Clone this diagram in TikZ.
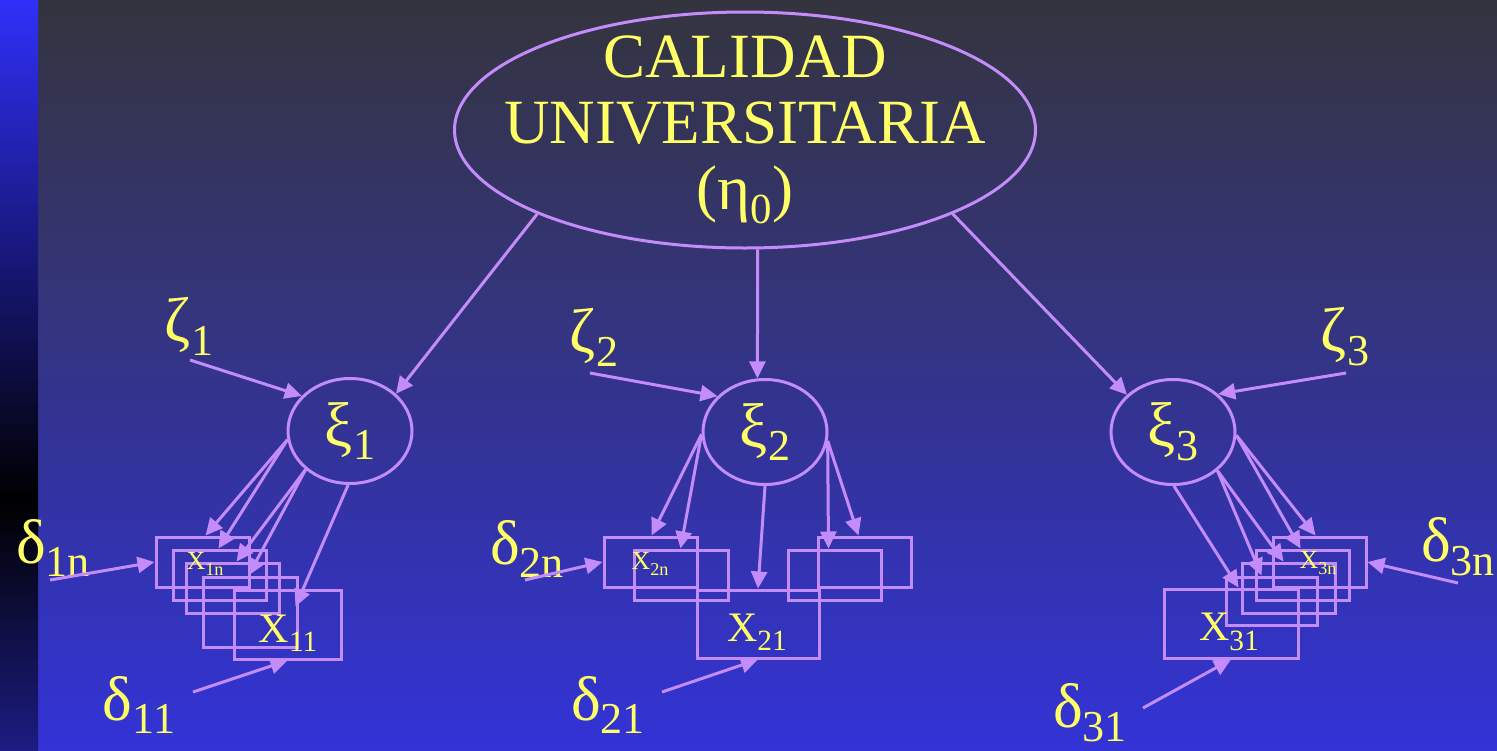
\documentclass[tikz,border=0pt]{standalone}
\usepackage{fontspec}
\setmainfont{Liberation Serif}
\usetikzlibrary{shapes.geometric,arrows.meta}
\definecolor{lav}{RGB}{196,140,250}
\definecolor{yel}{RGB}{255,255,102}
\definecolor{bgtop}{RGB}{52,52,62}
\definecolor{bgmid}{RGB}{50,50,140}
\definecolor{bgbot}{RGB}{51,51,215}
\definecolor{striptop}{RGB}{48,48,250}
\definecolor{stripbot}{RGB}{28,28,130}
\newcommand{\lowidx}[2][0.7]{\raisebox{-0.22em}{\scalebox{#1}{#2}}}

\begin{document}
\begin{tikzpicture}[x=1pt,y=-1pt]
  \tikzstyle{latent}=[ellipse, draw=lav, line width=3pt, inner sep=0pt, minimum width=124pt, minimum height=105pt]
  \tikzstyle{obs}=[rectangle, draw=lav, line width=3pt, inner sep=0pt, minimum width=93pt, minimum height=50pt]
  \tikzstyle{load}=[lav, line width=3pt, -{Triangle[length=17pt,width=16pt]}]
  \tikzstyle{txt}=[text=yel, inner sep=0pt, font=\fontsize{63}{66}\selectfont]
  \tikzstyle{obslab}=[text=yel, inner sep=0pt, font=\fontsize{42}{44}\selectfont]
  \tikzstyle{obstiny}=[text=yel, inner sep=0pt, font=\fontsize{26}{28}\selectfont]

  \useasboundingbox (0,0) rectangle (1497,750);
  \shade[top color=bgtop, middle color=bgmid, bottom color=bgbot] (38,0) rectangle (1497,750);
  \shade[top color=striptop, bottom color=black] (0,0) rectangle (38,500);
  \shade[top color=black, bottom color=stripbot] (0,500) rectangle (38,750);

  \node[latent, minimum width=581pt, minimum height=236pt, label={[txt, align=center]center:{CALIDAD\\UNIVERSITARIA\\(η\lowidx[0.68]{0})}}] (eta) at (745,130) {};

  \node[latent, label={[txt]center:ξ\lowidx{1}}] (xi1) at (350,431) {};
  \node[latent, label={[txt]center:ξ\lowidx{2}}] (xi2) at (765,432) {};
  \node[latent, label={[txt]center:ξ\lowidx{3}}] (xi3) at (1173,432) {};

  \node[txt] (zeta1) at (189,326) {ζ\lowidx{1}};
  \node[txt] (zeta2) at (594,337) {ζ\lowidx{2}};
  \node[txt] (zeta3) at (1345,337) {ζ\lowidx{3}};
  \coordinate (z1t) at (190,360);
  \coordinate (z2t) at (590,373);
  \coordinate (z3t) at (1346,373);

  \node[txt] (d1n) at (53,548) {δ\lowidx{1n}};
  \node[txt] (d11) at (139,705) {δ\lowidx{11}};
  \node[txt] (d2n) at (527,549) {δ\lowidx{2n}};
  \node[txt] (d21) at (608,705) {δ\lowidx{21}};
  \node[txt] (d3n) at (1458,547) {δ\lowidx{3n}};
  \node[txt] (d31) at (1090,713) {δ\lowidx{31}};
  \coordinate (d1nt) at (50,580);
  \coordinate (d11t) at (193,692);
  \coordinate (d2nt) at (525,580);
  \coordinate (d21t) at (662,692);
  \coordinate (d3nt) at (1458,583);
  \coordinate (d31t) at (1143,708);

  \node[obs] (b1a) at (202.5,562) {};
  \node[obs] (b1b) at (219.5,575) {};
  \node[obs] (b1c) at (232.5,588) {};
  \node[obs, minimum width=94pt, minimum height=70pt] (b1d) at (250,612) {};
  \node[obs, minimum width=107pt, minimum height=69pt] (b1e) at (287.5,624.5) {};
  \node[obstiny] (x1n) at (205,564) {X\lowidx{1n}};
  \node[obslab] (x11) at (288,633) {X\lowidx{11}};

  \node[obs] (b2a) at (650.5,562) {};
  \node[obs, minimum width=94pt] (b2b) at (681,575) {};
  \node[obs, minimum width=122pt, minimum height=68pt] (b2c) at (758,624) {};
  \node[obs] (b2d) at (834.5,575) {};
  \node[obs] (b2e) at (864.5,562) {};
  \node[obstiny] (x2n) at (650,564) {X\lowidx{2n}};
  \node[obslab] (x21) at (757,632) {X\lowidx{21}};

  \node[obs, minimum width=134pt, minimum height=69pt] (b3a) at (1231,623.5) {};
  \node[obs, minimum width=91pt, minimum height=48pt] (b3b) at (1271.5,601) {};
  \node[obs] (b3c) at (1288.5,588) {};
  \node[obs] (b3d) at (1302.5,575) {};
  \node[obs] (b3e) at (1319.5,562) {};
  \node[obstiny] (x3n) at (1318,563) {X\lowidx{3n}};
  \node[obslab] (x31) at (1229,632) {X\lowidx{31}};

  \draw[load] (eta.202) -- (xi1.39);
  \draw[load] (eta.276) -- (xi2.98);
  \draw[load] (eta.338) -- (xi3.141);
  \draw[load] (z1t) -- (xi1.144);
  \draw[load] (z2t) -- (xi2.143);
  \draw[load] (z3t) -- (xi3.40);

  \draw[load] (xi1.188) -- ([xshift=51pt]b1a.north west);
  \draw[load] (xi1.188) -- ([xshift=47pt]b1b.north west);
  \draw[load] (xi1.221) -- ([xshift=52pt]b1c.north west);
  \draw[load] (xi1.221) -- ([xshift=47pt]b1d.north west);
  \draw[load] (xi1.268) -- ([xshift=63pt,yshift=-18pt]b1e.north west);

  \draw[load] (xi2.182) -- ([xshift=49pt]b2a.north west);
  \draw[load] (xi2.182) -- ([xshift=48pt]b2b.north west);
  \draw[load] (xi2.270) -- (b2c.north);
  \draw[load] (xi2.352) -- ([xshift=42pt]b2d.north west);
  \draw[load] (xi2.352) -- ([xshift=42pt]b2e.north west);

  \draw[load] (xi3.271) -- ([xshift=76pt]b3a.north west);
  \draw[load] (xi3.319) -- ([xshift=37pt]b3b.north west);
  \draw[load] (xi3.319) -- ([xshift=43pt]b3c.north west);
  \draw[load] (xi3.357) -- ([xshift=46pt]b3d.north west);
  \draw[load] (xi3.357) -- ([xshift=44pt]b3e.north west);

  \draw[load] (d1nt) -- (b1a.west);
  \draw[load] (d11t) -- (b1e.south);
  \draw[load] (d2nt) -- (b2a.west);
  \draw[load] (d21t) -- (b2c.south);
  \draw[load] (d3nt) -- (b3e.east);
  \draw[load] (d31t) -- (b3a.south);
\end{tikzpicture}
\end{document}
